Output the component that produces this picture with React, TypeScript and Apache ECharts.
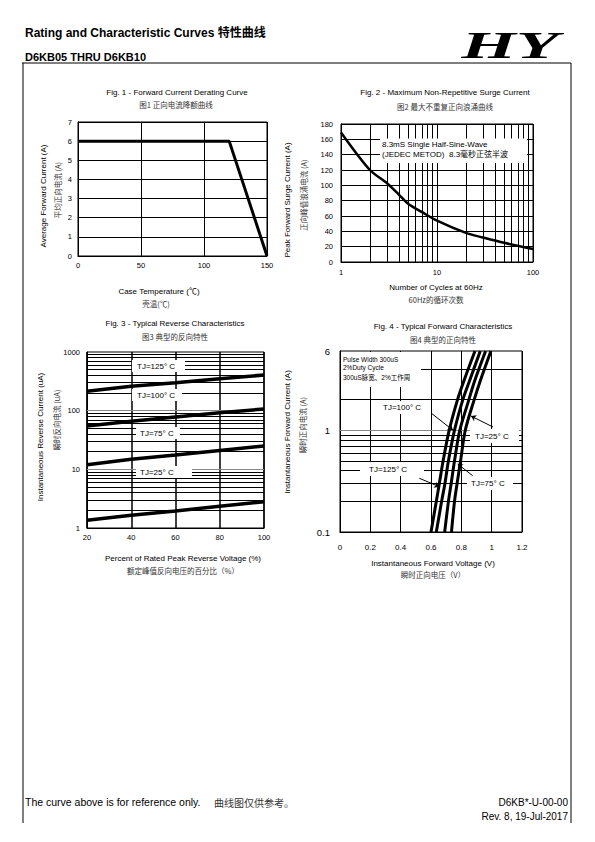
import React, { useEffect, useRef } from "react";
import * as echarts from "echarts";

// ---------- Fig. 1 data ----------
const fig1Temp = [0, 120, 150];
const fig1Current = [6, 6, 0];

// ---------- Fig. 2 data ----------
const fig2Cycles = [1, 2, 3, 4, 5, 7, 10, 20, 30, 50, 100];
const fig2Current = [169, 120, 103, 88, 76, 65, 54, 38, 32, 25, 17];
const fig2MinorX = [2, 3, 4, 5, 6, 7, 8, 9, 20, 30, 40, 50, 60, 70, 80, 90];

// ---------- Fig. 3 data ----------
const fig3Percent = [20, 40, 60, 80, 100];
const fig3Tj125 = [215, 260, 300, 350, 405];
const fig3Tj100 = [55, 66, 78, 92, 107];
const fig3Tj75 = [12, 14.8, 17.5, 21, 25];
const fig3Tj25 = [1.35, 1.65, 1.95, 2.35, 2.8];
const fig3MinorY = [2, 3, 4, 5, 6, 7, 8, 9, 20, 30, 40, 50, 60, 70, 80, 90, 200, 300, 400, 500, 600, 700, 800, 900];
const fig3MajorY = [10, 100];

// ---------- Fig. 4 data ----------
const fig4Current = [0.1, 0.2, 0.3, 0.5, 1, 2, 3, 6];
const fig4Tj125 = [0.6, 0.635, 0.655, 0.68, 0.72, 0.775, 0.815, 0.89];
const fig4Tj100 = [0.635, 0.67, 0.692, 0.715, 0.755, 0.81, 0.852, 0.925];
const fig4Tj75 = [0.69, 0.715, 0.733, 0.755, 0.79, 0.85, 0.886, 0.96];
const fig4Tj25 = [0.735, 0.755, 0.772, 0.795, 0.826, 0.885, 0.923, 0.995];
const fig4MinorY = [0.2, 0.3, 0.4, 0.5, 0.6, 0.7, 0.8, 0.9, 2, 4];
const fig4MajorY = [1];
const fig4Arrows = [
  [[0.6, 1.476], [0.745, 1.0]],
  [[1.009, 1.075], [0.864, 1.377]],
  [[0.523, 0.337], [0.655, 0.279]],
  [[0.875, 0.357], [0.776, 0.466]],
];

const FONT = "'Liberation Sans', Arial, 'Noto Sans CJK SC', sans-serif";
const CJK = "'Noto Sans CJK SC', sans-serif";

function txt(text: string, x: number, y: number, o: any = {}) {
  return {
    type: "text",
    x,
    y,
    rotation: o.rotation || 0,
    scaleX: o.scaleX || 1,
    z: 21,
    style: {
      text,
      fontSize: o.size ?? 8,
      fontFamily: o.family ?? FONT,
      fontWeight: o.weight ?? "normal",
      fontStyle: o.fstyle ?? "normal",
      fill: o.color ?? "#000",
      align: o.align ?? "center",
      verticalAlign: "middle",
    },
  };
}
function box(x: number, y: number, w: number, h: number) {
  return { type: "rect", z: 20, shape: { x, y, width: w, height: h }, style: { fill: "#fff" } };
}
function ln(x1: number, y1: number, x2: number, y2: number, w = 1) {
  return { type: "line", z: 21, shape: { x1, y1, x2, y2 }, style: { stroke: "#000", lineWidth: w } };
}

function axis(gridIndex: number, extra: any, labelSize = 7.5, margin = 6) {
  return {
    gridIndex,
    axisLine: { show: true, onZero: false, lineStyle: { color: "#000", width: 1 } },
    axisTick: { show: false },
    axisLabel: { color: "#000", fontSize: labelSize, fontFamily: FONT, margin, formatter: (v: number) => String(v) },
    ...extra,
  };
}

function gridSeries(xi: number, items: any[]) {
  return {
    type: "line",
    xAxisIndex: xi,
    yAxisIndex: xi,
    data: [],
    z: 1,
    silent: true,
    markLine: {
      z: 2,
      silent: true,
      symbol: ["none", "none"],
      label: { show: false },
      lineStyle: { color: "#000", width: 1, type: "solid" },
      data: items,
    },
  };
}

function curve(xi: number, data: number[][], width = 3, smooth: any = false) {
  return {
    type: "line",
    xAxisIndex: xi,
    yAxisIndex: xi,
    data,
    z: 5,
    smooth,
    symbol: "none",
    showSymbol: false,
    silent: true,
    lineStyle: { color: "#000", width },
  };
}

const PI2 = Math.PI / 2;
const cjkOpt = { family: CJK, color: "#333", size: 7.5 };

const graphics: any[] = [
  // header
  txt("Rating and Characteristic Curves 特性曲线", 25, 33, { align: "left", size: 12, weight: "bold" }),
  txt("D6KB05 THRU D6KB10", 25, 57, { align: "left", size: 11, weight: "bold" }),
  ln(22, 63, 571, 63),
  txt("HY", 510, 45, { size: 38, weight: 900, fstyle: "italic", family: "'Liberation Serif', 'DejaVu Serif', serif", scaleX: 1.85 }),
  // frame
  ln(23, 63, 23, 823),
  ln(571, 63, 571, 823),

  // Fig 1
  txt("Fig. 1 - Forward Current Derating Curve", 177, 92),
  txt("图1 正向电流降额曲线", 176, 104, cjkOpt),
  txt("Average Forward Current (A)", 43, 196, { rotation: PI2 }),
  txt("平均正向电流 (A)", 57, 190, { ...cjkOpt, rotation: PI2 }),
  txt("Case Temperature (℃)", 159, 291),
  txt("壳温(℃)", 156, 303, cjkOpt),

  // Fig 2
  txt("Fig. 2 - Maximum Non-Repetitive Surge Current", 445, 92),
  txt("图2 最大不重复正向浪涌曲线", 445, 106, cjkOpt),
  txt("Peak Forward Surge Current (A)", 287, 200, { rotation: PI2 }),
  txt("正向峰值浪涌电流 (A)", 303, 195, { ...cjkOpt, rotation: PI2 }),
  txt("Number of Cycles at 60Hz", 436, 287),
  txt("60Hz的循环次数", 436, 299, cjkOpt),
  box(380, 138.5, 147, 24.5),
  txt("8.3mS Single Half-Sine-Wave", 382, 144, { align: "left" }),
  txt("(JEDEC METOD)  8.3毫秒正弦半波", 382, 154, { align: "left" }),

  // Fig 3
  txt("Fig. 3 - Typical Reverse Characteristics", 175, 323),
  txt("图3 典型的反向特性", 175, 336, cjkOpt),
  txt("Instantaneous Reverse Current (uA)", 40, 437, { rotation: PI2 }),
  txt("瞬时反向电流 (uA)", 56, 420, { ...cjkOpt, rotation: PI2 }),
  txt("Percent of Rated Peak Reverse Voltage (%)", 183, 558),
  txt("额定峰值反向电压的百分比（%）", 183, 570, cjkOpt),
  box(132, 360, 53, 12),
  txt("TJ=125° C", 137, 366, { align: "left" }),
  box(132, 389, 50, 12),
  txt("TJ=100° C", 137, 395, { align: "left" }),
  box(136, 427, 44, 12),
  txt("TJ=75° C", 140, 433, { align: "left" }),
  box(136, 466, 56, 12),
  txt("TJ=25° C", 140, 472, { align: "left" }),

  // Fig 4
  txt("Fig. 4 - Typical Forward Characteristics", 443, 326),
  txt("图4 典型的正向特性", 443, 339, cjkOpt),
  txt("Instantaneous Forward Current (A)", 287, 432, { rotation: PI2 }),
  txt("瞬时正向电流 (A)", 302, 425, { ...cjkOpt, rotation: PI2 }),
  txt("Instantaneous Forward Voltage (V)", 433, 563),
  txt("瞬时正向电压（V）", 433, 574, cjkOpt),
  box(341, 352, 80, 35),
  txt("Pulse Width 300uS", 343, 359, { align: "left", size: 6.5 }),
  txt("2%Duty Cycle", 343, 367.5, { align: "left", size: 6.5 }),
  txt("300uS脉宽、2%工作周", 343, 377, { align: "left", size: 6.5 }),
  box(374, 401, 54, 13),
  txt("TJ=100° C", 383, 407.5, { align: "left" }),
  box(470, 429, 49, 14),
  txt("TJ=25° C", 475, 436, { align: "left" }),
  box(360, 462, 64, 14),
  txt("TJ=125° C", 369, 469, { align: "left" }),
  box(467, 477, 46, 13),
  txt("TJ=75° C", 471, 483.5, { align: "left" }),

  // footer
  txt("The curve above is for reference only.", 25, 802, { align: "left", size: 10.5 }),
  txt("曲线图仅供参考。", 214, 802, { align: "left", size: 10, family: CJK, color: "#333" }),
  txt("D6KB*-U-00-00", 568, 802, { align: "right", size: 10 }),
  txt("Rev. 8, 19-Jul-2017", 568, 816, { align: "right", size: 10 }),
];

const gridBase = { show: true, borderColor: "#000", borderWidth: 1, backgroundColor: "transparent", containLabel: false };
const black = (w = 1) => ({ show: true, lineStyle: { color: "#000", width: w, type: "solid" } });

const option: any = {
  animation: false,
  backgroundColor: "#fff",
  grid: [
    { ...gridBase, left: 78, top: 122, width: 189, height: 134 },
    { ...gridBase, left: 341, top: 124, width: 192, height: 138 },
    { ...gridBase, left: 87, top: 352, width: 177, height: 176 },
    { ...gridBase, left: 340, top: 351, width: 182, height: 181 },
  ],
  xAxis: [
    axis(0, { type: "value", min: 0, max: 150, interval: 50, splitLine: black(1) }),
    axis(1, { type: "log", logBase: 10, min: 1, max: 100, splitLine: black(1) }, 7.5, 7),
    axis(2, { type: "value", min: 20, max: 100, interval: 20, splitLine: black(1.5) }, 7.5, 6),
    axis(3, { type: "value", min: 0, max: 1.2, interval: 0.2, splitLine: black(1) }, 8, 11),
  ],
  yAxis: [
    axis(0, { type: "value", min: 0, max: 7, interval: 1, splitLine: black(1) }),
    axis(1, { type: "value", min: 0, max: 180, interval: 20, splitLine: black(1) }, 7.5, 8),
    axis(2, { type: "log", logBase: 10, min: 1, max: 1000, splitLine: { show: false } }, 7.5, 7),
    axis(3, { type: "log", logBase: 10, min: 0.1, max: 6, splitLine: { show: false } }, 9.5, 10),
  ],
  graphic: graphics,
  series: [
    // grids
    gridSeries(1, fig2MinorX.map((v) => ({ xAxis: v }))),
    gridSeries(2, [
      ...fig3MinorY.map((v) => ({ yAxis: v })),
      ...fig3MajorY.map((v) => ({ yAxis: v, lineStyle: { color: "#888", width: 1, type: "solid" } })),
    ]),
    gridSeries(3, [
      ...fig4MinorY.map((v) => ({ yAxis: v })),
      ...fig4MajorY.map((v) => ({ yAxis: v, lineStyle: { color: "#888", width: 1, type: "solid" } })),
    ]),
    // Fig 1
    curve(0, fig1Temp.map((t, i) => [t, fig1Current[i]]), 3),
    // Fig 2
    curve(1, fig2Cycles.map((c, i) => [c, fig2Current[i]]), 2.5, 0.3),
    // Fig 3
    curve(2, fig3Percent.map((p, i) => [p, fig3Tj125[i]]), 3.5),
    curve(2, fig3Percent.map((p, i) => [p, fig3Tj100[i]]), 3.5),
    curve(2, fig3Percent.map((p, i) => [p, fig3Tj75[i]]), 3.5),
    curve(2, fig3Percent.map((p, i) => [p, fig3Tj25[i]]), 3.5),
    // Fig 4
    curve(3, fig4Current.map((c, i) => [fig4Tj125[i], c]), 3, 0.3),
    curve(3, fig4Current.map((c, i) => [fig4Tj100[i], c]), 3, 0.3),
    curve(3, fig4Current.map((c, i) => [fig4Tj75[i], c]), 3, 0.3),
    curve(3, fig4Current.map((c, i) => [fig4Tj25[i], c]), 3, 0.3),
    {
      type: "line",
      xAxisIndex: 3,
      yAxisIndex: 3,
      data: [],
      z: 30,
      silent: true,
      markLine: {
        z: 30,
        silent: true,
        symbol: ["none", "arrow"],
        symbolSize: 5,
        label: { show: false },
        lineStyle: { color: "#000", width: 1, type: "solid" },
        data: fig4Arrows.map((a) => [{ coord: a[0] }, { coord: a[1] }]),
      },
    },
  ],
};

export default function App() {
  const ref = useRef<HTMLDivElement>(null);
  useEffect(() => {
    if (!ref.current) return;
    const chart = echarts.init(ref.current, null, { renderer: "svg" });
    chart.setOption(option);
    return () => chart.dispose();
  }, []);
  return (
    <div
      ref={ref}
      style={{ position: "absolute", left: 0, top: 0, width: 595, height: 842, background: "#fff" }}
    />
  );
}
